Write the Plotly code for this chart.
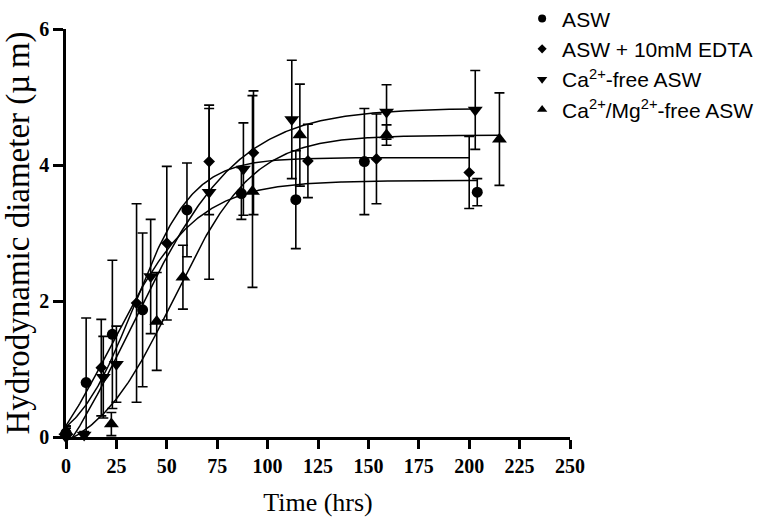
import numpy as np
import plotly.graph_objects as go

# ---------------- data ----------------
asw_t = [0, 10, 23, 38, 60, 87, 114, 148, 204]
asw_v = [0.06, 0.80, 1.51, 1.87, 3.34, 3.58, 3.49, 4.05, 3.60]
asw_e = [0.10, 0.95, 1.09, 1.13, 0.69, 0.38, 0.72, 0.78, 0.20]

edta_t = [0, 17.5, 35, 50, 71, 93, 120, 154, 200]
edta_v = [0.05, 1.02, 1.97, 2.85, 4.05, 4.18, 4.06, 4.09, 3.89]
edta_e = [0.08, 0.71, 1.46, 1.13, 0.78, 0.91, 0.54, 0.66, 0.53]

ca_t = [0, 9, 18.5, 25, 42, 71, 88, 112, 159, 203]
ca_v = [0.00, 0.03, 0.88, 1.07, 2.36, 3.60, 3.94, 4.67, 4.78, 4.81]
ca_e = [0.05, 0.05, 0.60, 0.56, 0.84, 1.28, 0.68, 0.87, 0.40, 0.58]

camg_t = [0, 22.5, 45, 58, 92.5, 116, 159, 215]
camg_v = [0.08, 0.19, 1.70, 2.35, 3.61, 4.44, 4.44, 4.38]
camg_e = [0.08, 0.17, 0.72, 0.47, 1.41, 0.75, 0.15, 0.68]

names = ["ASW", "ASW + 10mM EDTA", "Ca<sup>2+</sup>-free ASW",
         "Ca<sup>2+</sup>/Mg<sup>2+</sup>-free ASW"]
x_ticks = [0, 25, 50, 75, 100, 125, 150, 175, 200, 225, 250]
y_ticks = [0, 2, 4, 6]


# ---------------- Boltzmann sigmoid fit (least squares) ----------------
def boltz_fit(t, v):
    t = np.asarray(t, float)
    v = np.asarray(v, float)

    def search(Vg, Sg):
        V = Vg[:, None, None]
        S = Sg[None, :, None]
        s = 1.0 / (1.0 + np.exp(np.clip((V - t[None, None, :]) / S, -50, 50)))
        a = 1 - s
        Saa = (a * a).sum(-1); Sab = (a * s).sum(-1); Sbb = (s * s).sum(-1)
        Say = (a * v).sum(-1); Sby = (s * v).sum(-1)
        det = Saa * Sbb - Sab ** 2
        det = np.where(np.abs(det) < 1e-12, np.nan, det)
        bot = (Sbb * Say - Sab * Sby) / det
        top = (Saa * Sby - Sab * Say) / det
        pred = bot[..., None] * a + top[..., None] * s
        sse = ((pred - v) ** 2).sum(-1)
        i, j = np.unravel_index(np.nanargmin(sse), sse.shape)
        return Vg[i], Sg[j], bot[i, j], top[i, j]

    V50, sl, b, tp = search(np.linspace(0, 150, 301), np.linspace(2, 60, 117))
    V50, sl, b, tp = search(np.linspace(V50 - 1, V50 + 1, 81),
                            np.linspace(max(sl - 1, 0.5), sl + 1, 81))
    xs = np.linspace(0, t.max(), 300)
    ys = b + (tp - b) / (1 + np.exp((V50 - xs) / sl))
    return xs, ys


series = [
    (asw_t, asw_v, asw_e, "circle", 11, 8),
    (edta_t, edta_v, edta_e, "diamond", 9, 7),
    (ca_t, ca_v, ca_e, "triangle-down", 13, 9),
    (camg_t, camg_v, camg_e, "triangle-up", 13, 9),
]

fig = go.Figure()

for (t, v, e, sym, ms, lms), name in zip(series, names):
    xs, ys = boltz_fit(t, v)
    fig.add_trace(go.Scatter(x=xs, y=ys, mode="lines",
                             line=dict(color="black", width=1.5),
                             showlegend=False, hoverinfo="skip"))
    # error bars (clipped to plot area)
    fig.add_trace(go.Scatter(x=t, y=v, mode="markers",
                             marker=dict(size=1, color="rgba(0,0,0,0)"),
                             error_y=dict(type="data", array=e, visible=True,
                                          color="black", thickness=1.6, width=5),
                             showlegend=False, cliponaxis=True))
    # markers
    fig.add_trace(go.Scatter(x=t, y=v, mode="markers",
                             marker=dict(symbol=sym, size=ms, color="black",
                                         line=dict(width=0)),
                             showlegend=False, cliponaxis=False))
    # legend entry
    fig.add_trace(go.Scatter(x=[None], y=[None], mode="markers", name=name,
                             marker=dict(symbol=sym, size=lms, color="black"),
                             showlegend=True))

fig.update_layout(
    width=767, height=525,
    margin=dict(l=66, r=197, t=29, b=88, autoexpand=False),
    paper_bgcolor="white", plot_bgcolor="white",
    showlegend=True,
    legend=dict(x=0.905, y=1.075, xanchor="left", yanchor="top",
                font=dict(family="Liberation Sans, Arial", size=21, color="black"),
                itemwidth=30, bgcolor="rgba(0,0,0,0)"),
    font=dict(family="Liberation Serif, Times New Roman", color="black"),
)

fig.update_xaxes(
    range=[0, 250], tickvals=x_ticks, ticktext=[str(v) for v in x_ticks],
    showline=True, linecolor="black", linewidth=2.5, mirror=False,
    ticks="outside", ticklen=9, tickwidth=2.5, tickcolor="black",
    showgrid=False, zeroline=False,
    tickfont=dict(family="Liberation Serif, Times New Roman", size=20,
                  weight="bold", color="black"),
    title=dict(text="Time (hrs)", standoff=18,
               font=dict(family="Liberation Serif, Times New Roman", size=26,
                         color="black")),
)
fig.update_yaxes(
    range=[0, 6], tickvals=y_ticks, ticktext=[str(v) for v in y_ticks],
    showline=True, linecolor="black", linewidth=2.5, mirror=False,
    ticks="outside", ticklen=10, tickwidth=2.5, tickcolor="black",
    showgrid=False, zeroline=False,
    tickfont=dict(family="Liberation Serif, Times New Roman", size=20,
                  weight="bold", color="black"),
    title=dict(text="Hydrodynamic diameter (\u00b5\u2009m)", standoff=4,
               font=dict(family="Liberation Serif, Times New Roman", size=33,
                         color="black")),
)

fig.write_html("out.html")
